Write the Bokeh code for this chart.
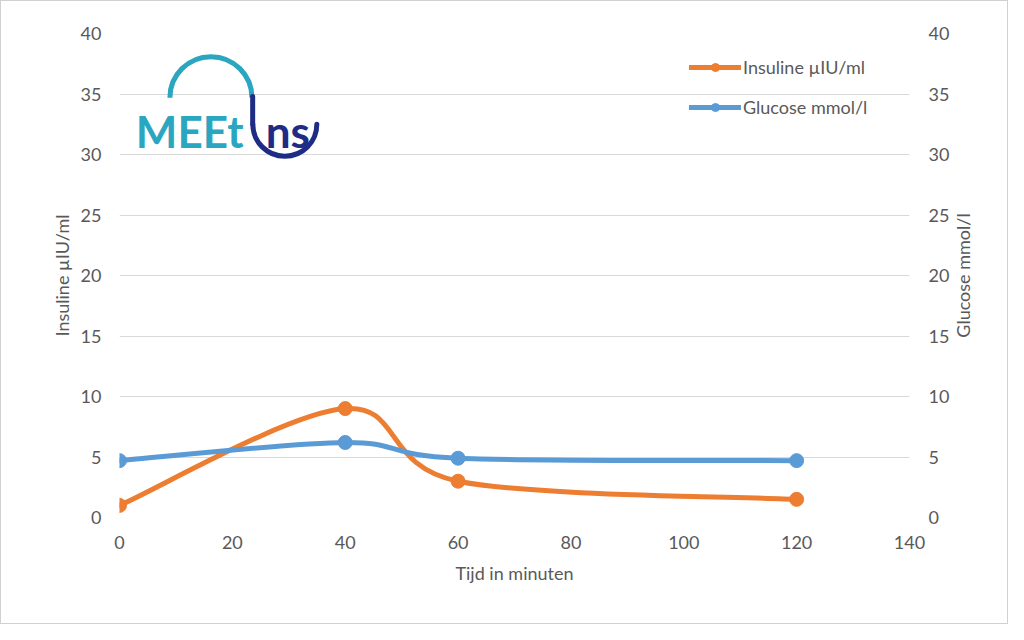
from math import pi

from bokeh.core.properties import value
from bokeh.embed import file_html
from bokeh.models import (ColumnDataSource, Label, Legend, LegendItem,
                          LinearAxis, Range1d, SingleIntervalTicker)
from bokeh.plotting import figure
from bokeh.resources import INLINE

# --- data ---
minutes = [0, 40, 60, 120]
insuline = [1.0, 9.0, 3.0, 1.5]      # µIU/ml (left axis)
glucose = [4.7, 6.2, 4.9, 4.7]       # mmol/l (right axis)

insuline_label = "Insuline µIU/ml"
glucose_label = "Glucose mmol/l"
x_label = "Tijd in minuten"

ORANGE = "#ED7D31"
BLUE = "#5B9BD5"
GREY_TEXT = "#595959"
GRID = "#D9D9D9"
FONT = "Lato"
FONT_SIZE = "18px"


def smooth_segments(xs, ys):
    # Excel-like smoothed line: one cubic bezier per pair of points
    n = len(xs)
    seg = dict(x0=[], y0=[], x1=[], y1=[], cx0=[], cy0=[], cx1=[], cy1=[])
    for i in range(n - 1):
        a = max(i - 1, 0)
        b = min(i + 2, n - 1)
        seg["x0"].append(xs[i])
        seg["y0"].append(ys[i])
        seg["x1"].append(xs[i + 1])
        seg["y1"].append(ys[i + 1])
        seg["cx0"].append(xs[i] + (xs[i + 1] - xs[a]) / 6)
        seg["cy0"].append(ys[i] + (ys[i + 1] - ys[a]) / 6)
        seg["cx1"].append(xs[i + 1] - (xs[b] - xs[i]) / 6)
        seg["cy1"].append(ys[i + 1] - (ys[b] - ys[i]) / 6)
    return ColumnDataSource(seg)


p = figure(width=1008, height=624, output_backend="svg", toolbar_location=None,
           x_range=Range1d(0, 140), y_range=Range1d(0, 40),
           min_border_left=118, min_border_right=100,
           min_border_top=32, min_border_bottom=108)
p.extra_y_ranges = {"glucose": Range1d(0, 40)}
p.outline_line_color = None
p.styles = {"border": "1px solid #D0D0D0"}

# axes
p.xaxis.ticker = SingleIntervalTicker(interval=20)
p.yaxis.ticker = SingleIntervalTicker(interval=5)
p.xaxis.axis_label = x_label
p.yaxis.axis_label = insuline_label

right_axis = LinearAxis(y_range_name="glucose",
                        ticker=SingleIntervalTicker(interval=5))
p.add_layout(right_axis, "right")

for ax in p.axis:
    ax.axis_line_color = None
    ax.major_tick_line_color = None
    ax.minor_tick_line_color = None
    ax.major_label_text_font = FONT
    ax.major_label_text_font_size = FONT_SIZE
    ax.major_label_text_color = GREY_TEXT
    ax.axis_label_text_font = FONT
    ax.axis_label_text_font_size = FONT_SIZE
    ax.axis_label_text_font_style = "normal"
    ax.axis_label_text_color = GREY_TEXT

p.yaxis[0].major_label_standoff = 12
p.yaxis[0].axis_label_standoff = 5
right_axis.major_label_standoff = 13
p.xaxis.major_label_standoff = 12
p.xaxis.axis_label_standoff = 10

# right axis title, reading bottom to top like the left one
p.add_layout(Label(x=10, y=242, x_units="screen", y_units="screen",
                   text=glucose_label, angle=pi / 2, text_align="center",
                   text_baseline="middle", text_font=FONT,
                   text_font_size=FONT_SIZE, text_color=GREY_TEXT), "right")

p.xgrid.grid_line_color = None
p.ygrid.grid_line_color = GRID
p.ygrid.grid_line_width = 1

# logo (MeetIns)
TEAL = "#2AA6C1"
NAVY = "#1E2C86"
p.arc(x=16.2, y=34.7, radius=41, radius_units="screen", start_angle=0,
      end_angle=pi, line_color=TEAL, line_width=5)
p.text(x=[2.9], y=[31.95], text=["MEEt"], text_font=value(FONT),
       text_font_size="44px", text_font_style="bold", text_color=TEAL,
       text_baseline="alphabetic", text_align="left")
p.line(x=[23.6, 23.6], y=[34.8, 32.5], line_color=NAVY, line_width=5,
       line_cap="round")
p.arc(x=29.3, y=32.5, radius=32, radius_units="screen", start_angle=pi,
      end_angle=2 * pi, line_color=NAVY, line_width=5, line_cap="round")
p.text(x=[25.9], y=[31.95], text=["ns"], text_font=value(FONT),
       text_font_size="44px", text_font_style="bold", text_color=NAVY,
       text_baseline="alphabetic", text_align="left")

# series
ins_src = ColumnDataSource(dict(x=minutes, y=insuline))
glu_src = ColumnDataSource(dict(x=minutes, y=glucose))

ins_line = p.bezier(x0="x0", y0="y0", x1="x1", y1="y1", cx0="cx0", cy0="cy0",
                    cx1="cx1", cy1="cy1", source=smooth_segments(minutes, insuline),
                    line_color=ORANGE, line_width=5, line_cap="round")
ins_pts = p.scatter("x", "y", source=ins_src, size=14, marker="circle",
                    fill_color=ORANGE, line_color=ORANGE)

glu_line = p.bezier(x0="x0", y0="y0", x1="x1", y1="y1", cx0="cx0", cy0="cy0",
                    cx1="cx1", cy1="cy1", source=smooth_segments(minutes, glucose),
                    line_color=BLUE, line_width=5, line_cap="round",
                    y_range_name="glucose")
glu_pts = p.scatter("x", "y", source=glu_src, size=14, marker="circle",
                    fill_color=BLUE, line_color=BLUE, y_range_name="glucose")

legend = Legend(items=[LegendItem(label=insuline_label, renderers=[ins_line, ins_pts]),
                       LegendItem(label=glucose_label, renderers=[glu_line, glu_pts])],
                location=(570, 399), orientation="vertical",
                padding=0, margin=0, spacing=18,
                glyph_width=52, glyph_height=20, label_height=20,
                label_standoff=2, border_line_color=None,
                background_fill_alpha=0,
                label_text_font=FONT, label_text_font_size=FONT_SIZE,
                label_text_color=GREY_TEXT)
p.add_layout(legend, "center")

open("out.html", "w").write(file_html(p, INLINE))
